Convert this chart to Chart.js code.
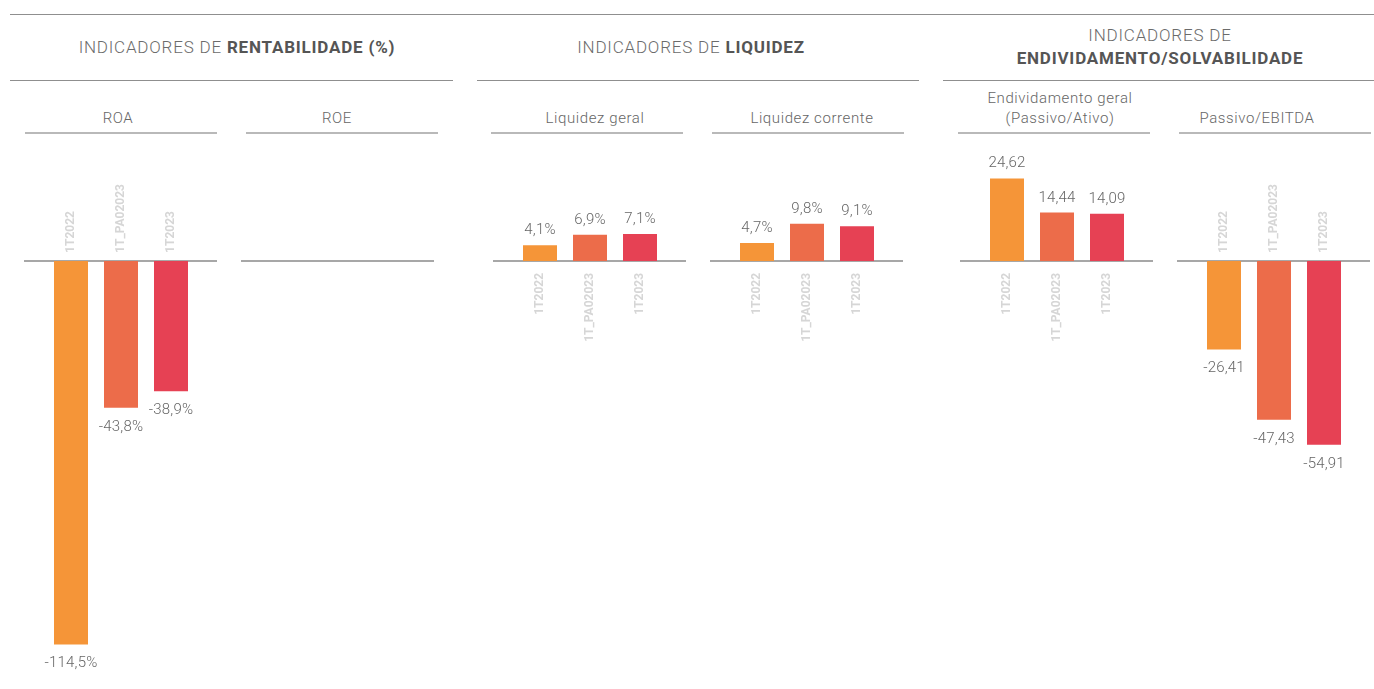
<!DOCTYPE html>
<html lang="pt-BR">
<head>
<meta charset="utf-8">
<title>Indicadores</title>
<script src="https://cdn.jsdelivr.net/npm/chart.js@4.4.1/dist/chart.umd.min.js"></script>
<style>
  body { margin: 0; background: #fff; font-family: Roboto, sans-serif; }
  #painel { position: relative; width: 1374px; height: 689px; overflow: hidden; }
  .linha { position: absolute; height: 1px; background: #8f8f8f; }
  .sublinha { position: absolute; height: 2px; background: #b9b9b9; width: 192px; top: 132px; }
  .titulo { position: absolute; width: 480px; text-align: center; font-size: 17px; line-height: 23px;
            color: #6b6b6b; font-weight: 300; letter-spacing: 0.8px; }
  .titulo b { font-weight: 700; color: #555; }
  .sub { position: absolute; width: 240px; text-align: center; font-size: 15px; line-height: 20px;
         color: #666; font-weight: 300; letter-spacing: 0.6px; }
  canvas { position: absolute; top: 140px; }
</style>
</head>
<body>
<div id="painel">
  <div class="linha" style="top:14px; left:10px; width:1364px"></div>

  <div class="titulo" style="left:-3px; top:36px">INDICADORES DE <b>RENTABILIDADE (%)</b></div>
  <div class="titulo" style="left:451px; top:36px">INDICADORES DE <b>LIQUIDEZ</b></div>
  <div class="titulo" style="left:920px; top:24px">INDICADORES DE<br><b>ENDIVIDAMENTO/SOLVABILIDADE</b></div>

  <div class="linha" style="top:80px; left:10px; width:443px"></div>
  <div class="linha" style="top:80px; left:477px; width:442px"></div>
  <div class="linha" style="top:80px; left:943px; width:431px"></div>

  <div class="sub" style="left:-2px; top:108px">ROA</div>
  <div class="sub" style="left:217px; top:108px">ROE</div>
  <div class="sub" style="left:475px; top:108px">Liquidez geral</div>
  <div class="sub" style="left:692px; top:108px">Liquidez corrente</div>
  <div class="sub" style="left:940px; top:88px">Endividamento geral<br>(Passivo/Ativo)</div>
  <div class="sub" style="left:1137px; top:108px">Passivo/EBITDA</div>

  <div class="sublinha" style="left:25px"></div>
  <div class="sublinha" style="left:246px"></div>
  <div class="sublinha" style="left:491px"></div>
  <div class="sublinha" style="left:712px"></div>
  <div class="sublinha" style="left:958px"></div>
  <div class="sublinha" style="left:1179px"></div>

  <canvas id="roa" width="193" height="549" style="left:24px"></canvas>
  <canvas id="roe" width="193" height="549" style="left:241px"></canvas>
  <canvas id="liqGeral" width="193" height="549" style="left:493px"></canvas>
  <canvas id="liqCorrente" width="193" height="549" style="left:710px"></canvas>
  <canvas id="endividamento" width="193" height="549" style="left:960px"></canvas>
  <canvas id="passivoEbitda" width="193" height="549" style="left:1177px"></canvas>
</div>

<script>
// Períodos comparados em todos os indicadores
const periodos = ['1T2022', '1T_PA02023', '1T2023'];

// Valores de cada indicador (ROE sem dados no período)
const roa = [-114.5, -43.8, -38.9];
const roe = [null, null, null];
const liquidezGeral = [4.1, 6.9, 7.1];
const liquidezCorrente = [4.7, 9.8, 9.1];
const endividamentoGeral = [24.62, 14.44, 14.09];
const passivoEbitda = [-26.41, -47.43, -54.91];

const coresBarras = ['#F59538', '#EC6C4A', '#E64154'];

// formata no padrão brasileiro: vírgula decimal
function formatar(v, casas, sufixo) {
    return v.toFixed(casas).replace('.', ',') + sufixo;
}

// Linha do zero + rótulos de valor e de período desenhados à mão
const rotulosPlugin = {
    id: 'rotulos',
    beforeDatasetsDraw(chart) {
        const ctx = chart.ctx;
        const zero = chart.scales.y.getPixelForValue(0);
        ctx.save();
        ctx.strokeStyle = '#8a8a8a';
        ctx.lineWidth = 1.5;
        ctx.beginPath();
        ctx.moveTo(0, zero);
        ctx.lineTo(chart.width, zero);
        ctx.stroke();
        ctx.restore();
    },
    afterDatasetsDraw(chart, args, opts) {
        const ctx = chart.ctx;
        const zero = chart.scales.y.getPixelForValue(0);
        const meta = chart.getDatasetMeta(0);
        meta.data.forEach((bar, i) => {
            const v = chart.data.datasets[0].data[i];
            if (v == null) return;

            ctx.save();
            ctx.font = '300 15px Roboto';
            ctx.letterSpacing = '0.2px';
            ctx.fillStyle = '#666';
            ctx.textAlign = 'center';
            ctx.textBaseline = 'alphabetic';
            const txt = formatar(v, opts.casas, opts.sufixo);
            if (v >= 0) {
                ctx.fillText(txt, bar.x, bar.y - 11);
            } else {
                ctx.fillText(txt, bar.x, bar.y + 23);
            }
            ctx.restore();

            // período na vertical, do lado oposto da barra
            ctx.save();
            ctx.translate(bar.x, v >= 0 ? zero + 12 : zero - 8);
            ctx.rotate(-Math.PI / 2);
            ctx.font = '700 12px Roboto';
            ctx.fillStyle = '#d6d6d6';
            ctx.textBaseline = 'middle';
            ctx.textAlign = v >= 0 ? 'right' : 'left';
            ctx.fillText(chart.data.labels[i], 0, 0);
            ctx.restore();
        });
    }
};

function criarGrafico(id, dados, casas, sufixo, yMin, yMax) {
    const ctx = document.getElementById(id).getContext('2d');
    return new Chart(ctx, {
        type: 'bar',
        data: {
            labels: periodos,
            datasets: [{
                data: dados,
                backgroundColor: coresBarras,
                borderWidth: 0,
                barPercentage: 0.68,
                categoryPercentage: 1.0
            }]
        },
        options: {
            responsive: false,
            animation: false,
            devicePixelRatio: 1,
            layout: { padding: { left: 22, right: 21, top: 0, bottom: 0 } },
            plugins: {
                legend: { display: false },
                tooltip: { enabled: false },
                rotulos: { casas: casas, sufixo: sufixo }
            },
            scales: {
                x: { display: false },
                y: { display: false, min: yMin, max: yMax }
            }
        },
        plugins: [rotulosPlugin]
    });
}

criarGrafico('roa', roa, 1, '%', -127.8, 36.1);
criarGrafico('roe', roe, 1, '%', -127.8, 36.1);
criarGrafico('liqGeral', liquidezGeral, 1, '%', -112.6, 31.8);
criarGrafico('liqCorrente', liquidezCorrente, 1, '%', -112.6, 31.8);
criarGrafico('endividamento', endividamentoGeral, 2, '', -127.8, 36.1);
criarGrafico('passivoEbitda', passivoEbitda, 2, '', -127.8, 36.1);
</script>
</body>
</html>
